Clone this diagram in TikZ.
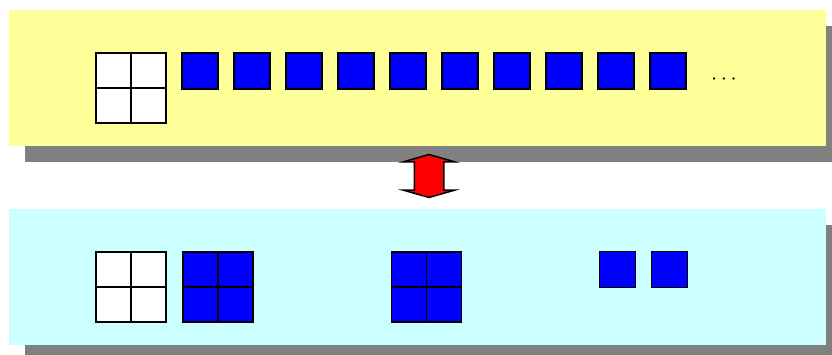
\documentclass[tikz,border=0pt]{standalone}
\usepackage{fontspec}
\usepackage{tikz}
\usetikzlibrary{shapes,arrows,positioning,calc,shadows}
\definecolor{padyellow}{HTML}{FFFF99}
\definecolor{padcyan}{HTML}{CCFFFF}

\begin{document}
\begin{tikzpicture}[
    x=1pt, y=-1pt,
    node distance=16pt,
    panel/.style={rectangle, minimum width=817pt, minimum height=136pt, inner sep=0pt,
        drop shadow={shadow xshift=16pt, shadow yshift=-16pt, fill=gray, opacity=1}},
    blk/.style={draw, line width=1.5pt, fill=blue, minimum size=36pt, inner sep=0pt, outer sep=0pt},
    quad/.style={draw, line width=1.5pt, minimum size=70pt, inner sep=0pt,
        path picture={\draw[line width=1.5pt] (path picture bounding box.north) -- (path picture bounding box.south)
            (path picture bounding box.west) -- (path picture bounding box.east);}},
    swap/.style={draw, line width=1.5pt, fill=red, double arrow, shape border rotate=90, inner sep=14pt,
        minimum height=43pt, double arrow head extend=11pt, double arrow tip angle=148}
]
    \useasboundingbox (0,0) rectangle (832,354);
    \node[panel, fill=padyellow] (upper) at (417.5,78) {};
    \node[panel, fill=padcyan] (lower) at (417.5,277) {};

    % upper row
    \node[quad, fill=white] (wup) at (131,88) {};
    \node[blk] (b1) at (200,71) {};
    \node[blk, right=of b1] (b2) {};
    \node[blk, right=of b2] (b3) {};
    \node[blk, right=of b3] (b4) {};
    \node[blk, right=of b4] (b5) {};
    \node[blk, right=of b5] (b6) {};
    \node[blk, right=of b6] (b7) {};
    \node[blk, right=of b7] (b8) {};
    \node[blk, right=of b8] (b9) {};
    \node[blk, right=of b9] (b10) {};
    \node[inner sep=0pt, scale=2.2] (more) at (724,80) {$\cdots$};

    % lower row
    \node[quad, fill=white] (wlow) at (131,287) {};
    \node[quad, fill=blue] (q1) at (218,287) {};
    \node[quad, fill=blue] (q2) at (426.5,287) {};
    \node[blk] (s1) at (617.5,269.5) {};
    \node[blk, right=of s1] (s2) {};

    \node[swap] (xchg) at (429,176) {};
\end{tikzpicture}
\end{document}
